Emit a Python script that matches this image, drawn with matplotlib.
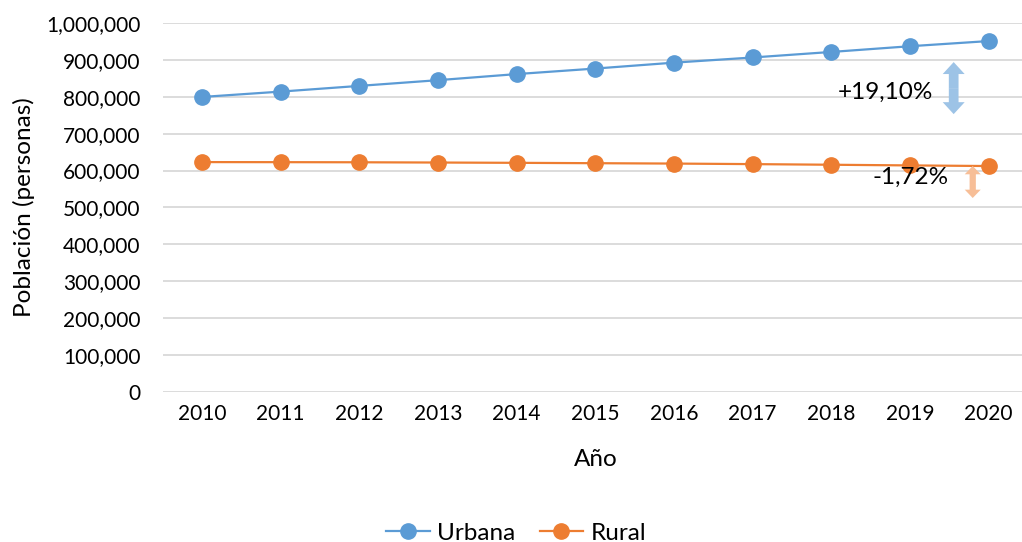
import matplotlib
matplotlib.use("Agg")
import matplotlib.pyplot as plt
from matplotlib.ticker import FuncFormatter, MultipleLocator

years = ["2010", "2011", "2012", "2013", "2014", "2015", "2016", "2017", "2018", "2019", "2020"]
urbana = [799500, 814000, 829500, 845000, 861500, 876500, 892500, 906500, 921500, 937000, 951000]
rural = [623000, 622800, 622500, 621800, 621000, 620000, 619000, 617500, 615800, 614000, 612300]
label_urbana = "+19,10%"
label_rural = "-1,72%"

plt.rcParams['font.family'] = ['Lato', 'DejaVu Sans']
FS = 15
FL = 17.5

fig = plt.figure(figsize=(10.22, 5.42), dpi=100)
ax = fig.add_axes([0.1591, 0.2768, 0.8468, 0.6808])

blue = "#5B9BD5"
orange = "#ED7D31"
x = list(range(len(years)))
ax.plot(x, urbana, color=blue, lw=1.6, marker="o", ms=11, label="Urbana", zorder=3)
ax.plot(x, rural, color=orange, lw=1.6, marker="o", ms=11, label="Rural", zorder=3)

ax.set_xlim(-0.5, len(years) - 0.5)
ax.set_ylim(0, 1000000)
ax.yaxis.set_major_locator(MultipleLocator(100000))
ax.yaxis.set_major_formatter(FuncFormatter(lambda v, p: f"{v:,.0f}"))
ax.set_xticks(x)
ax.set_xticklabels(years)
ax.grid(axis="y", color="#D9D9D9", lw=1.3, zorder=0)
ax.set_axisbelow(True)
for s in ax.spines.values():
    s.set_visible(False)
ax.tick_params(axis="y", length=0, pad=16, labelsize=FS, colors="#000000")
ax.tick_params(axis="x", length=0, pad=9, labelsize=FS, colors="#000000")
ax.set_ylabel("Población (personas)", fontsize=FL, labelpad=8)
ax.set_xlabel("Año", fontsize=FL, labelpad=18)

def double_arrow(xc, y0, y1, color, hl, hw, tw):
    ym = (y0 + y1) / 2
    for yt in (y0, y1):
        ax.annotate("", xy=(xc, yt), xytext=(xc, ym),
                    arrowprops=dict(arrowstyle=f"simple,head_length={hl},head_width={hw},tail_width={tw}",
                                    color=color, lw=0, shrinkA=0, shrinkB=0, mutation_scale=1),
                    zorder=4)

double_arrow(9.555, 894000, 753000, "#9DC3E6", 8.6, 15.8, 7.0)
double_arrow(9.797, 612500, 525700, "#F7BE97", 6.0, 11.5, 4.5)

ax.text(8.69, 813000, label_urbana, fontsize=FL, ha="center", va="center", zorder=5)
ax.text(9.01, 582700, label_rural, fontsize=FL, ha="center", va="center", zorder=5)

leg = fig.legend(loc="center", bbox_to_anchor=(0.505, 0.016), ncol=2, frameon=False,
                 fontsize=FL, handlelength=1.8, columnspacing=1.0, handletextpad=0.3)

fig.savefig("out.png", dpi=100)
